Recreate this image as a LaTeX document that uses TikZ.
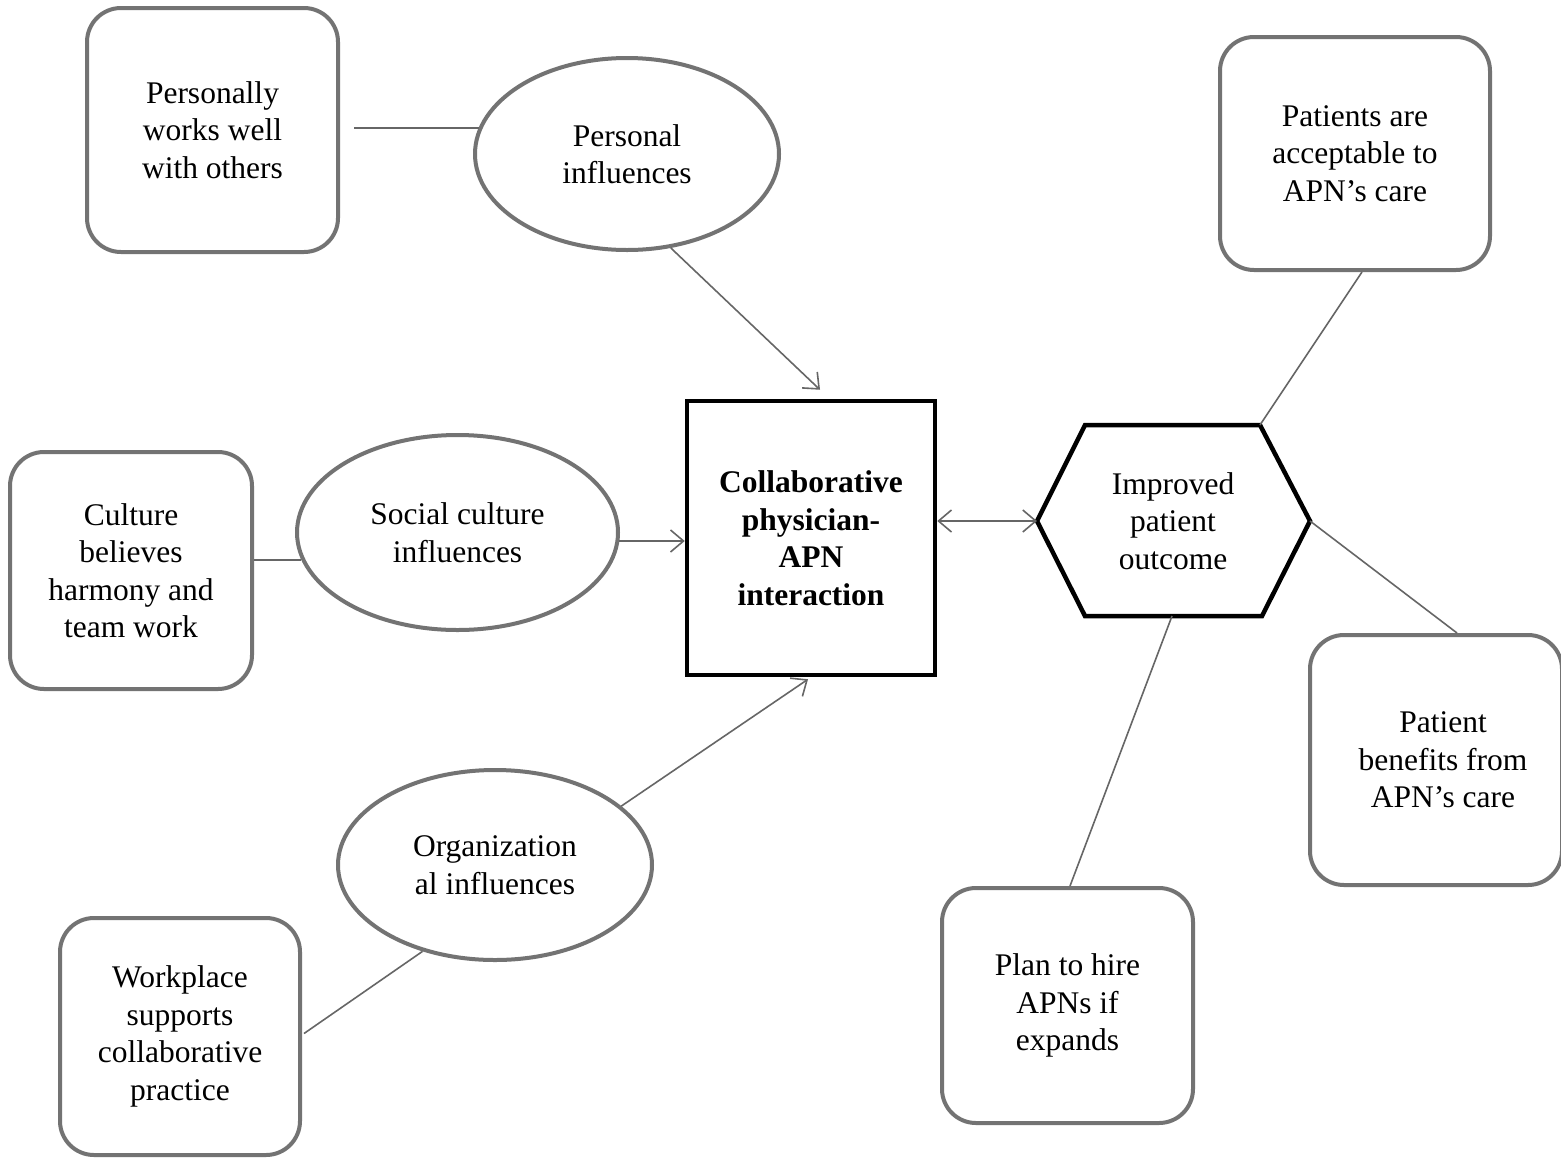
\documentclass[tikz,border=0pt]{standalone}
\usepackage{fontspec}
\setmainfont{Liberation Serif}
\usetikzlibrary{shapes.geometric,arrows.meta}
\definecolor{edgegray}{gray}{0.45}
\definecolor{linegray}{gray}{0.4}
\tikzset{
  lbl/.style={font=\fontsize{31.5}{37.5}\selectfont, align=center, text=black},
  rbox/.style={lbl, draw=edgegray, line width=4pt, rounded corners=34pt, inner sep=0pt},
  oval/.style={lbl, ellipse, draw=edgegray, line width=4pt, inner sep=0pt},
  conn/.style={draw=linegray, line width=1.6pt},
  arr/.style={conn, -{Straight Barb[length=13pt, width=22pt, line width=1.6pt]}},
  darr/.style={conn, {Straight Barb[length=13pt, width=22pt, line width=1.6pt]}-{Straight Barb[length=13pt, width=22pt, line width=1.6pt]}},
}
\begin{document}
\begin{tikzpicture}[x=1pt,y=-1pt]
\useasboundingbox (0,0) rectangle (1561,1157);
\fill[white] (0,0) rectangle (1561,1157);

% left column boxes
\node[rbox, minimum width=251pt, minimum height=244pt] (boxA) at (212.5,130) {Personally\\works well\\with others};
\node[rbox, minimum width=242pt, minimum height=237pt] (culB) at (131,570.5) {Culture\\believes\\harmony and\\team work};
\node[rbox, minimum width=240pt, minimum height=237pt] (wB) at (180,1036.5) {Workplace\\supports\\collaborative\\practice};

% ellipses
\node[oval, minimum width=304pt, minimum height=192pt] (persE) at (627,154) {Personal\\influences};
\node[oval, minimum width=321pt, minimum height=195pt] (sE) at (457.5,532.5) {Social culture\\influences};
\node[oval, minimum width=314pt, minimum height=190pt] (oE) at (495,865) {Organization\\al influences};

% central box
\node[lbl, draw=black, line width=4.5pt, minimum width=248pt, minimum height=274pt, inner sep=0pt, font=\fontsize{31.5}{37.5}\selectfont\bfseries] (cbox) at (811,538) {Collaborative\\physician-\\APN\\interaction};

% hexagon
\coordinate (hexL) at (1037,521);
\coordinate (hexTL) at (1085,425);
\coordinate (hexTR) at (1260,425);
\coordinate (hexR) at (1310,521);
\coordinate (hexBR) at (1262,616);
\coordinate (hexBL) at (1085,616);
\coordinate (hexB) at (1172,616);
\draw[black, line width=4.5pt, line join=miter] (hexL) -- (hexTL) -- (hexTR) -- (hexR) -- (hexBR) -- (hexBL) -- cycle;
\node[lbl] (hex) at (1173,521) {Improved\\patient\\outcome};

% right boxes
\node[rbox, minimum width=270pt, minimum height=233pt] (pB) at (1355,153.5) {Patients are\\acceptable to\\APN’s care};
\node[rbox, minimum width=252pt, minimum height=250pt] (bB) at (1436,760) {};
\node[lbl] (bT) at (1443,760) {Patient\\benefits from\\APN’s care};
\node[rbox, minimum width=251pt, minimum height=235pt] (plB) at (1067.5,1005.5) {Plan to hire\\APNs if\\expands};

% connectors
\draw[conn] (persE.170) -- ([xshift=14pt]persE.170 -| boxA.east);
\draw[arr] (persE.295) -- ([shift={(9,-9)}]cbox.north);
\draw[conn] (sE.190) -- (sE.190 -| culB.east);
\draw[arr] (sE.357) -- (sE.357 -| cbox.west);
\draw[arr] (oE.25) -- ([shift={(-3,2)}]cbox.south);
\draw[conn] ([shift={(2,-3)}]wB.east) -- (oE.230);
\draw[darr] (cbox.east |- hexL) -- (hexL);
\draw[conn] ([xshift=7pt]pB.south) -- (hexTR);
\draw[conn] (hexR) -- ([xshift=21pt]bB.north);
\draw[conn] (hexB) -- ([xshift=2.5pt]plB.north);
\end{tikzpicture}
\end{document}
